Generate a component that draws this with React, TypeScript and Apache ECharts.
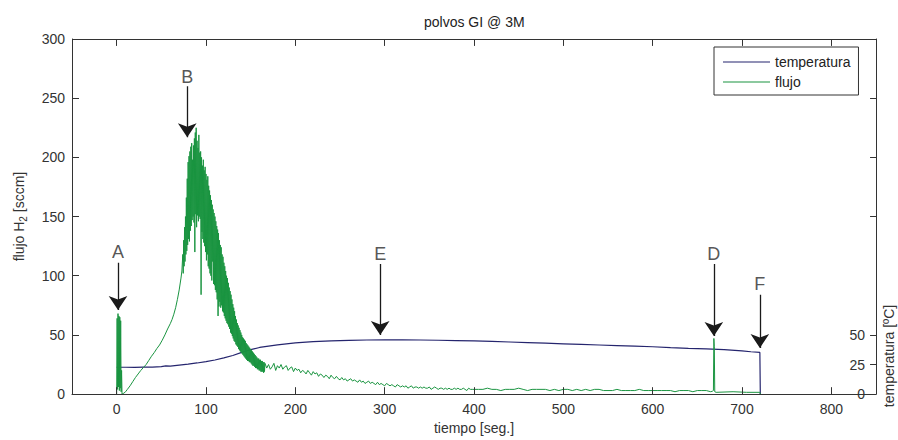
import { useEffect, useRef } from "react";
import * as echarts from "echarts";

// ---------- axis settings ----------
const xMin = -50;
const xMax = 850;
const yMin = 0;
const yMax = 300;
const xTicks = [0, 100, 200, 300, 400, 500, 600, 700, 800];
const flowTicks = [0, 50, 100, 150, 200, 250, 300];
const tempLabelTicks = [0, 25, 50];
const rightTicks = [0, 25, 50, 150, 200, 250];

// ---------- temperatura [ºC] (time s, value) ----------
const tempData: [number, number][] = [
  [0, 22.7], [10, 22.7], [20, 22.6], [30, 22.8], [40, 22.8], [50, 23.2], [55, 23.8], [60, 23.6],
  [70, 24.5], [80, 25.3], [90, 26.3], [100, 27.4], [110, 28.8], [120, 30.6], [130, 32.6],
  [140, 35.2], [150, 37.6], [160, 39.4], [170, 40.6], [180, 41.6], [190, 42.5], [200, 43.2],
  [220, 44.3], [240, 45.0], [260, 45.4], [280, 45.7], [300, 45.8], [320, 45.8], [340, 45.7],
  [360, 45.5], [380, 45.2], [400, 44.9], [420, 44.5], [440, 44.0], [460, 43.5], [480, 43.0],
  [500, 42.5], [520, 42.0], [540, 41.5], [560, 41.0], [580, 40.5], [600, 40.0], [620, 39.3],
  [640, 38.7], [660, 38.2], [680, 37.6], [700, 36.5], [710, 35.8], [720, 35.2], [720.5, 0],
];

// ---------- flujo H2 [sccm] ----------
const flowSpikeA: [number, number][] = [
  [0, 0], [0.5, 64], [1, 4], [1.5, 68], [2, 6], [2.5, 66], [3, 3], [3.5, 65], [4, 5],
  [4.5, 62], [5, 2], [5.5, 20], [6, 0],
];
const flowRise: [number, number][] = [
  [7, 0.3], [8, 0.8], [10, 2], [12, 4], [15, 7], [18, 10.5], [21, 14], [24, 17], [27, 20],
  [30, 22.5], [33, 25], [36, 28.5], [39, 32], [42, 35], [45, 38.5], [48, 41.5], [51, 45.5],
  [54, 50], [57, 55], [60, 59.5], [62, 63], [64, 67.5], [66, 73], [68, 80], [70, 88],
  [72, 98], [73, 104],
];
const flowPeakStart = 74;
const flowPeakStep = 0.5;
const flowPeak = [
  118, 102, 130, 108, 141, 112, 150, 118, 166, 121,
  182, 126, 196, 131, 201, 129, 205, 138, 209, 142,
  212, 147, 198, 150, 210, 145, 216, 120, 221, 152,
  225, 141, 214, 151, 208, 146, 219, 150, 204, 148,
  205, 84, 200, 137, 193, 131, 198, 128, 189, 125,
  192, 120, 186, 113, 181, 118, 184, 108, 176, 106,
  172, 102, 168, 100, 164, 96, 160, 112, 156, 93,
  153, 92, 150, 88, 146, 86, 142, 80, 139, 66,
  136, 74, 130, 78, 126, 73, 124, 75, 118, 70,
  116, 69, 111, 66, 108, 64, 104, 62, 100, 60,
  98, 59, 94, 57, 90, 55, 87, 52, 84, 51,
  80, 49, 76, 47, 73, 45, 70, 44, 66, 42,
  63, 41, 60, 40, 58, 38, 56, 37, 54, 36,
  52, 35, 50, 34, 48, 33, 47, 32, 46, 31,
  45, 30, 43, 29, 42, 28, 41, 28, 40, 27,
  39, 27, 38, 26, 37, 25, 36, 24, 35, 24,
  34, 23, 33, 22, 32, 22, 31, 21, 30, 21,
  30, 20, 29, 20, 29, 19, 28, 19, 28, 19,
  27, 18, 27, 19, 26,
];
const flowTailStart = 168;
const flowTailStep = 2;
const flowTail = [
  22, 25, 21, 23, 26, 20, 24, 22, 25, 21,
  23, 24, 20, 22, 23, 19, 22, 20, 21, 18,
  20, 19, 17, 20, 18, 16, 19, 17, 18, 15,
  17, 16, 14, 16, 15, 13, 16, 14, 13, 15,
  13, 12, 14, 12, 13, 11, 12, 13, 11, 12,
  11, 10, 12, 10, 11, 9, 10, 11, 9, 10,
  9, 8, 10, 8, 9, 8, 7, 9, 8, 7,
  8, 7, 6, 8, 7, 6, 7, 6, 7, 5,
  6, 7, 5, 6, 6, 5, 6, 5, 6, 5,
  5, 6, 4, 5, 6, 5, 4, 5, 5, 4,
  5, 4, 5, 4, 4, 5, 4, 5, 4, 4,
  5, 4, 3, 5, 4, 4, 4,
];
const flowLateStart = 405;
const flowLateStep = 5;
const flowLate = [
  4, 4, 5, 4, 4, 3, 4, 4, 4, 5,
  4, 3, 4, 4, 4, 4, 3, 4, 3, 4,
  4, 3, 4, 3, 4, 3, 4, 4, 3, 3,
  3, 4, 3, 3, 3, 3, 4, 3, 3, 3,
  3, 3, 3, 3, 2, 3, 3, 3, 2, 3,
  3, 3, 2,
];
const flowEnd: [number, number][] = [
  [667, 2.5], [668, 3], [668.5, 47], [669, 40], [669.5, 2], [671, 1.5], [690, 2],
  [705, 1.5], [720, 1.5], [720.5, 0],
];

// ---------- annotations ----------
const markerNames = ["A", "B", "E", "D", "F"];
const markerTime = [1.5, 79, 295, 668.5, 720];
const markerLabelY = [120, 268, 118, 118, 93];
const arrowTopY = [111, 260, 110, 110, 84];
const arrowTipY = [71, 217, 50, 49, 39];

const FONT = "'Liberation Sans', Arial, 'DejaVu Sans', sans-serif";
const TEXT = "#333";
const AXIS = "#333";

const GRID = { left: 72, top: 39, width: 804, height: 359 };

export default function App() {
  const ref = useRef<HTMLDivElement>(null);

  useEffect(() => {
    if (!ref.current) return;
    const chart = echarts.init(ref.current, undefined, { renderer: "svg" });

    const flowData: [number, number][] = [
      ...flowSpikeA,
      ...flowRise,
      ...flowPeak.map((v, i) => [flowPeakStart + i * flowPeakStep, v] as [number, number]),
      ...flowTail.map((v, i) => [flowTailStart + i * flowTailStep, v] as [number, number]),
      ...flowLate.map((v, i) => [flowLateStart + i * flowLateStep, v] as [number, number]),
      ...flowEnd,
    ];

    const arrows = markerNames.map((n, i) => ({
      name: n,
      coords: [
        [markerTime[i], arrowTopY[i]],
        [markerTime[i], arrowTipY[i]],
      ],
    }));
    const labels = markerNames.map((n, i) => ({ name: n, value: [markerTime[i], markerLabelY[i]] }));

    // box frame and inward ticks, in axis units (tick length 7 px converted through the grid size)
    const tickY = (7 * (yMax - yMin)) / GRID.height;
    const tickX = (7 * (xMax - xMin)) / GRID.width;
    const frame: any[] = [
      { coords: [[xMin, yMin], [xMin, yMax]] },
      { coords: [[xMin, yMax], [xMax, yMax]] },
      { coords: [[xMax, yMax], [xMax, yMin]] },
      { coords: [[xMin, yMin], [xMax, yMin]] },
      ...xTicks.map((t) => ({ coords: [[t, yMin], [t, yMin + tickY]] })),
      ...xTicks.map((t) => ({ coords: [[t, yMax], [t, yMax - tickY]] })),
      ...flowTicks.map((v) => ({ coords: [[xMin, v], [xMin + tickX, v]] })),
      ...rightTicks.map((v) => ({ coords: [[xMax, v], [xMax - tickX * 0.85, v]] })),
    ];

    const option: any = {
      animation: false,
      backgroundColor: "#fff",
      textStyle: { fontFamily: FONT },
      title: {
        text: "polvos GI @ 3M",
        left: 424,
        top: 15,
        padding: 0,
        textStyle: { fontSize: 14, fontWeight: "normal", color: "#222", fontFamily: FONT },
      },
      legend: {
        data: ["temperatura", "flujo"],
        orient: "vertical",
        left: 714,
        top: 47,
        padding: [8, 8, 6, 9],
        itemWidth: 47,
        itemHeight: 14,
        itemGap: 6,
        icon: "path://M0,0H47V1.2H0Z",
        symbolKeepAspect: true,
        borderColor: "#333",
        borderWidth: 1,
        backgroundColor: "#fff",
        textStyle: { fontSize: 14, color: "#222", fontFamily: FONT },
      },
      grid: GRID,
      xAxis: [
        {
          type: "value",
          min: xMin,
          max: xMax,
          position: "bottom",
          axisLine: { show: true, onZero: false, lineStyle: { color: AXIS, width: 1 } },
          axisTick: { show: false },
          axisLabel: { customValues: xTicks, fontSize: 14, color: TEXT, margin: 8, fontFamily: FONT },
          splitLine: { show: false },
          name: "tiempo [seg.]",
          nameLocation: "middle",
          nameGap: 24,
          nameTextStyle: { fontSize: 14, color: TEXT, fontFamily: FONT },
        },
      ],
      yAxis: [
        {
          type: "value",
          min: yMin,
          max: yMax,
          interval: 50,
          position: "left",
          axisLine: { show: true, onZero: false, lineStyle: { color: AXIS, width: 1 } },
          axisTick: { show: false },
          axisLabel: { fontSize: 14, color: TEXT, margin: 7, fontFamily: FONT },
          splitLine: { show: false },
          name: "flujo H{sub|2} [sccm]",
          nameLocation: "middle",
          nameRotate: 90,
          nameGap: 44,
          nameTextStyle: {
            fontSize: 14,
            color: TEXT,
            fontFamily: FONT,
            rich: { sub: { fontSize: 10, padding: [8, 0, 0, 0], verticalAlign: "bottom", color: TEXT, fontFamily: FONT } },
          },
        },
        {
          type: "value",
          min: yMin,
          max: yMax,
          interval: 25,
          position: "right",
          axisLine: { show: true, onZero: false, lineStyle: { color: AXIS, width: 1 } },
          axisTick: { show: false },
          axisLabel: { show: true, inside: true, customValues: tempLabelTicks, fontSize: 14, color: TEXT, margin: 11, fontFamily: FONT },
          splitLine: { show: false },
        },
      ],
      graphic: [
        {
          type: "text",
          x: 889,
          y: 356,
          rotation: Math.PI / 2,
          style: {
            text: "temperatura [ºC]",
            fontSize: 14,
            fill: TEXT,
            fontFamily: FONT,
            textAlign: "center",
            textVerticalAlign: "middle",
          },
        },
      ],
      series: [
        {
          name: "temperatura",
          type: "line",
          xAxisIndex: 0,
          yAxisIndex: 1,
          data: tempData,
          symbol: "none",
          color: "#25256e",
          lineStyle: { color: "#25256e", width: 1.2 },
          z: 2,
        },
        {
          name: "flujo",
          type: "line",
          xAxisIndex: 0,
          yAxisIndex: 0,
          data: flowData,
          symbol: "none",
          color: "#1a9440",
          lineStyle: { color: "#1a9440", width: 1 },
          z: 3,
        },
        {
          name: "frame",
          type: "lines",
          coordinateSystem: "cartesian2d",
          xAxisIndex: 0,
          yAxisIndex: 0,
          data: frame,
          symbol: "none",
          clip: false,
          lineStyle: { color: AXIS, width: 1, opacity: 1 },
          silent: true,
          z: 4,
        },
        {
          name: "arrows",
          type: "lines",
          coordinateSystem: "cartesian2d",
          xAxisIndex: 0,
          yAxisIndex: 0,
          data: arrows,
          symbol: ["none", "arrow"],
          symbolSize: [12, 14],
          lineStyle: { color: "#1a1a1a", width: 1.3, opacity: 1 },
          silent: true,
          z: 5,
        },
        {
          name: "labels",
          type: "scatter",
          xAxisIndex: 0,
          yAxisIndex: 0,
          data: labels,
          symbolSize: 0,
          silent: true,
          label: {
            show: true,
            position: "inside",
            formatter: "{b}",
            fontSize: 18,
            color: "#2a2a2a",
            fontFamily: FONT,
          },
          z: 5,
        },
      ],
    };

    chart.setOption(option);
    return () => chart.dispose();
  }, []);

  return (
    <div
      ref={ref}
      style={{ position: "fixed", left: 0, top: 0, width: 898, height: 440, background: "#fff" }}
    />
  );
}
